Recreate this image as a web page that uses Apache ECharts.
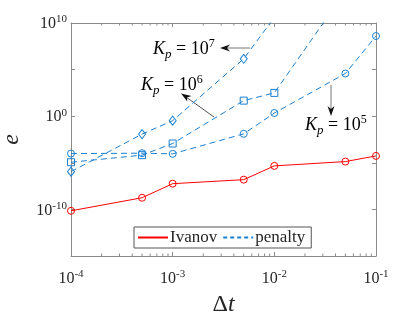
<!DOCTYPE html>
<html><head><meta charset="utf-8">
<script src="https://cdn.jsdelivr.net/npm/echarts@6/dist/echarts.min.js"></script>
<style>html,body{margin:0;padding:0;background:#fff}#c{width:415px;height:313px}</style>
</head><body><div id="c"></div>
<script>
// x values (Δt)
var dt = [1e-4, 5e-4, 1e-3, 5e-3, 1e-2, 5e-2, 1e-1];
// log10 of error values
var ivanovExp = [-10.15, -8.75, -7.24, -6.81, -5.33, -4.87, -4.26];
var kp5Exp    = [-4.01, -3.97, -4.04, -1.89, 0.34, 4.58, 8.6];
var kp6Exp    = [-4.94, -4.18, -2.93, 1.67, 2.5, 13.4, null];
var kp7Exp    = [-5.95, -1.92, -0.48, 6.16, 10.6, null, null];
var xTickLabels = ['-4', '-3', '-2', '-1'];
var yTickLabels = ['-10', '0', '10'];
var xMinor = [2e-4,3e-4,4e-4,5e-4,6e-4,7e-4,8e-4,9e-4,2e-3,3e-3,4e-3,5e-3,6e-3,7e-3,8e-3,9e-3,2e-2,3e-2,4e-2,5e-2,6e-2,7e-2,8e-2,9e-2];

function pts(exps){ return dt.map(function(x,i){ return exps[i]==null ? [x,null] : [x, Math.pow(10, exps[i])]; }); }

var RED = '#ff0000', BLUE = '#1a7fcf', AX = '#8a8a8a', TXT = '#262626';
var FONT = 'Liberation Serif';

var rich = {
  b: {fontFamily: FONT, fontSize: 16, color: TXT, lineHeight: 18, verticalAlign: 'bottom'},
  s: {fontFamily: FONT, fontSize: 11, color: TXT, lineHeight: 18, verticalAlign: 'top', padding: [0,0,8,0]}
};
function pow10Label(v){
  var e = Math.round(Math.log(v)/Math.LN10);
  return '{b|10}{s|' + e + '}';
}

var chart = echarts.init(document.getElementById('c'), null, {renderer: 'canvas'});

function dataSeries(name, exps, color, symbol, dashed){
  return {
    name: name, type: 'line', data: pts(exps), xAxisIndex: 0, yAxisIndex: 0,
    symbol: symbol, symbolSize: symbol === 'diamond' ? [7,9] : 7,
    showSymbol: true, clip: true, connectNulls: false, animation: false,
    lineStyle: {color: color, width: 1, type: dashed ? [6,4] : 'solid'},
    itemStyle: {color: 'rgba(0,0,0,0)', borderColor: color, borderWidth: 1},
    z: 3
  };
}

var option = {
  animation: false,
  grid: {left: 71, right: 39, top: 23, bottom: 57, containLabel: false, outerBoundsMode: 'none'},
  xAxis: [{
    type: 'log', logBase: 10, min: 1e-4, max: 1e-1, interval: 1, splitNumber: 3,
    axisLine: {show: true, lineStyle: {color: AX, width: 1}},
    axisTick: {show: true, inside: true, length: 4, lineStyle: {color: AX}},
    splitLine: {show: false}, minorTick: {show: false},
    axisLabel: {margin: 13, formatter: function(v){ var e = Math.round(Math.log(v)/Math.LN10); return xTickLabels.indexOf(String(e))>=0 ? pow10Label(v) : ''; }, rich: rich},
    name: '{a|Δ}{i|t}', nameLocation: 'middle', nameGap: 33,
    nameTextStyle: {rich: {a: {fontFamily: FONT, fontSize: 24, color: TXT}, i: {fontFamily: FONT, fontStyle: 'italic', fontSize: 24, color: TXT}}}
  }, {
    type: 'log', logBase: 10, min: 1e-4, max: 1e-1, interval: 1, position: 'top',
    axisLine: {show: true, lineStyle: {color: AX, width: 1}},
    axisTick: {show: true, inside: true, length: 4, lineStyle: {color: AX}},
    axisLabel: {show: false}, splitLine: {show: false}
  }],
  yAxis: [{
    type: 'log', logBase: 10, min: 1e-15, max: 1e10, interval: 5, splitNumber: 5,
    axisLine: {show: true, lineStyle: {color: AX, width: 1}},
    axisTick: {show: true, inside: true, length: 4, lineStyle: {color: AX}},
    splitLine: {show: false},
    axisLabel: {margin: 4, formatter: function(v){ var e = Math.round(Math.log(v)/Math.LN10); return yTickLabels.indexOf(String(e))>=0 ? pow10Label(v) : ''; }, rich: rich},
    name: 'e', nameLocation: 'middle', nameGap: 47, nameRotate: 90,
    nameTextStyle: {fontFamily: FONT, fontStyle: 'italic', fontSize: 24, color: TXT}
  }, {
    type: 'log', logBase: 10, min: 1e-15, max: 1e10, interval: 5, position: 'right',
    axisLine: {show: true, lineStyle: {color: AX, width: 1}},
    axisTick: {show: true, inside: true, length: 4, lineStyle: {color: AX}},
    axisLabel: {show: false}, splitLine: {show: false}
  }],
  legend: {
    data: ['Ivanov', 'penalty'], left: 134, top: 227, orient: 'horizontal',
    itemWidth: 30, itemHeight: 10, itemGap: 5, padding: [2, 6, 2, 3],
    itemStyle: {color: 'rgba(0,0,0,0)', borderWidth: 0, opacity: 0},
    borderColor: '#555', borderWidth: 1, backgroundColor: '#fff',
    textStyle: {fontFamily: FONT, fontSize: 17, color: TXT, padding: [0,0,0,-3]},
    selectedMode: false
  },
  series: [
    {name: 'Ivanov', type: 'line', data: [], symbol: 'none', lineStyle: {color: RED, width: 1}, itemStyle: {color: RED}},
    {name: 'penalty', type: 'line', data: [], symbol: 'none', lineStyle: {color: BLUE, width: 1, type: [4,3]}, itemStyle: {color: BLUE}},
    dataSeries('Ivanov data', ivanovExp, RED, 'circle', false),
    dataSeries('Kp5', kp5Exp, BLUE, 'circle', true),
    dataSeries('Kp6', kp6Exp, BLUE, 'rect', true),
    dataSeries('Kp7', kp7Exp, BLUE, 'diamond', true),
    {
      type: 'custom', name: 'minorTicks', silent: true, clip: false, z: 2,
      xAxisIndex: 0, yAxisIndex: 0,
      data: xMinor.map(function(v){ return [v]; }),
      renderItem: function(params, api){
        var b = api.coord([api.value(0), 1e-15]);
        var t = api.coord([api.value(0), 1e10]);
        return {type: 'group', children: [
          {type: 'line', shape: {x1: b[0], y1: b[1], x2: b[0], y2: b[1]-2.5}, style: {stroke: AX, lineWidth: 1}},
          {type: 'line', shape: {x1: t[0], y1: t[1], x2: t[0], y2: t[1]+2.5}, style: {stroke: AX, lineWidth: 1}}
        ]};
      }
    }
  ],
  graphic: [
    {type: 'text', left: 153, top: 38, style: {rich: annRich(), text: '{k|K}{p|p}{e| = 10}{s|7}'}},
    {type: 'text', left: 141, top: 74, style: {rich: annRich(), text: '{k|K}{p|p}{e| = 10}{s|6}'}},
    {type: 'text', left: 305, top: 114, style: {rich: annRich(), text: '{k|K}{p|p}{e| = 10}{s|5}'}},
    {type: 'line', shape: {x1: 250, y1: 48, x2: 226, y2: 48}, style: {stroke: '#777', lineWidth: 1}},
    {type: 'polygon', shape: {points: [[220,48],[230,44.5],[227,48],[230,51.5]]}, style: {fill: '#111'}},
    {type: 'line', shape: {x1: 214, y1: 117, x2: 186, y2: 97}, style: {stroke: '#555', lineWidth: 1}},
    {type: 'polygon', shape: {points: [[181,93.5],[191.5,96],[187,97.5],[187.3,101.5]]}, style: {fill: '#111'}},
    {type: 'line', shape: {x1: 331, y1: 85, x2: 331, y2: 110}, style: {stroke: '#777', lineWidth: 1}},
    {type: 'polygon', shape: {points: [[331,116],[327.5,106],[331,109],[334.5,106]]}, style: {fill: '#111'}}
  ]
};
function annRich(){
  return {
    k: {fontFamily: FONT, fontStyle: 'italic', fontSize: 18, color: '#111', lineHeight: 20, verticalAlign: 'bottom'},
    p: {fontFamily: FONT, fontStyle: 'italic', fontSize: 13, color: '#111', lineHeight: 20, verticalAlign: 'bottom', padding: [0,0,-3,0]},
    e: {fontFamily: FONT, fontSize: 18, color: '#111', lineHeight: 20, verticalAlign: 'bottom'},
    s: {fontFamily: FONT, fontSize: 12, color: '#111', lineHeight: 20, verticalAlign: 'top', padding: [0,0,8,0]}
  };
}
chart.setOption(option);
</script>
</body></html>
